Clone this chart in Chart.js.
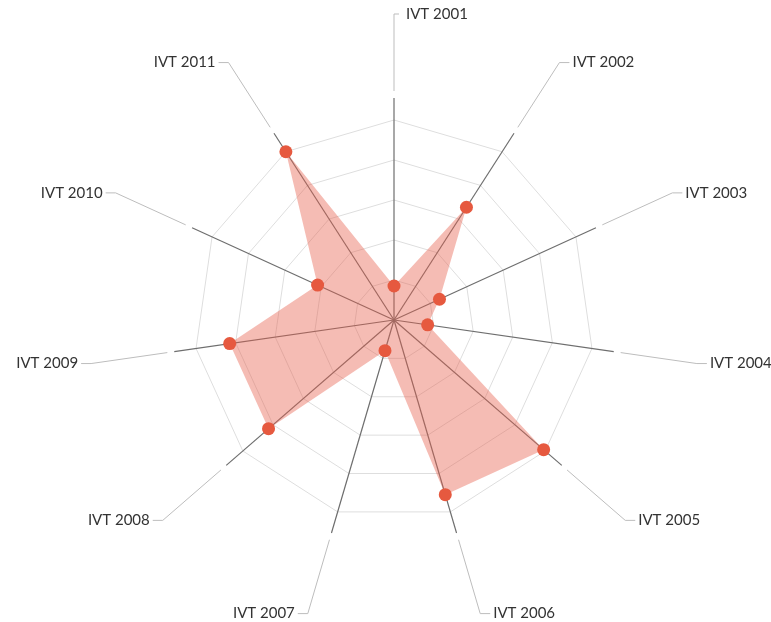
<!DOCTYPE html>
<html>
<head>
<meta charset="utf-8">
<title>IVT radar</title>
<script src="https://cdn.jsdelivr.net/npm/chart.js@4.4.1/dist/chart.umd.min.js"></script>
<style>
    html, body { margin: 0; padding: 0; background: #fff; }
    #wrap { width: 771px; height: 622px; }
</style>
</head>
<body>
<div id="wrap"><canvas id="radar-chart" width="771" height="622"></canvas></div>
<script>
// 数据
const categories = ['IVT 2001', 'IVT 2002', 'IVT 2003', 'IVT 2004', 'IVT 2005', 'IVT 2006',
                    'IVT 2007', 'IVT 2008', 'IVT 2009', 'IVT 2010', 'IVT 2011'];
const values = [17, 67, 25, 17, 99, 91, 16, 83, 83, 42, 100];
const scaleMax = 100;
const scaleStep = 20;

// 轴线 + 引线 + 标签
const leaderPlugin = {
    id: 'leaders',
    beforeDatasetsDraw(chart) {
        const scale = chart.scales.r;
        const ctx = chart.ctx;
        const center = scale.getPointPosition(0, 0);
        ctx.save();
        ctx.font = '15px Lato, "Open Sans", sans-serif';
        ctx.textBaseline = 'middle';
        categories.forEach((name, i) => {
            const inner = scale.getPointPosition(i, 222);
            const outerStart = scale.getPointPosition(i, 229);
            const end = scale.getPointPosition(i, 306);

            // 深色轴线
            ctx.strokeStyle = '#6e6e6e';
            ctx.lineWidth = 1.2;
            ctx.beginPath();
            ctx.moveTo(center.x, center.y);
            ctx.lineTo(inner.x, inner.y);
            ctx.stroke();

            // 浅色引线
            const dir = end.x >= center.x - 0.5 ? 1 : -1;
            ctx.strokeStyle = '#bdbdbd';
            ctx.lineWidth = 1;
            ctx.beginPath();
            ctx.moveTo(outerStart.x, outerStart.y);
            ctx.lineTo(end.x, end.y);
            ctx.lineTo(end.x + dir * (i === 0 ? 5 : 10), end.y);
            ctx.stroke();

            // 标签
            ctx.fillStyle = '#333';
            ctx.textAlign = dir > 0 ? 'left' : 'right';
            ctx.fillText(name, end.x + dir * (i === 0 ? 12 : 13), end.y);
        });
        ctx.restore();
    }
};

new Chart(document.getElementById('radar-chart').getContext('2d'), {
    type: 'radar',
    data: {
        labels: categories,
        datasets: [{
            data: values,
            backgroundColor: 'rgba(232, 96, 76, 0.42)',
            borderWidth: 0,
            borderColor: 'rgba(0,0,0,0)',
            pointBackgroundColor: '#e6593f',
            pointBorderWidth: 0,
            pointRadius: 6.5,
            fill: true
        }]
    },
    options: {
        responsive: false,
        animation: false,
        layout: { padding: { left: 100, right: 83, top: 120, bottom: 102 } },
        plugins: {
            legend: { display: false },
            tooltip: { enabled: false }
        },
        scales: {
            r: {
                min: 0,
                max: scaleMax,
                ticks: { display: false, stepSize: scaleStep },
                grid: { color: '#dedede', lineWidth: 1 },
                angleLines: { display: false },
                pointLabels: { display: false }
            }
        }
    },
    plugins: [leaderPlugin]
});
</script>
</body>
</html>
